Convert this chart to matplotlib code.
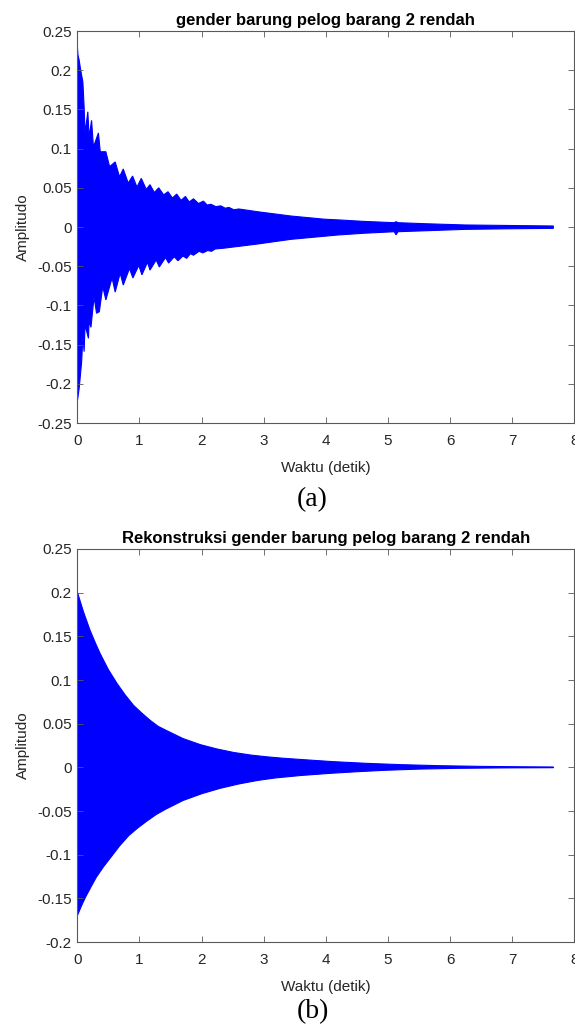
import numpy as np
import matplotlib
matplotlib.use('Agg')
import matplotlib.pyplot as plt

plt.rcParams['font.family'] = ['Liberation Sans', 'DejaVu Sans']

# (a) original recording: envelope (time [s], amplitude)
t_a_up = [0.0, 0.01, 0.03, 0.055, 0.09, 0.11, 0.125, 0.17, 0.19, 0.23, 0.26, 0.34, 0.37,
          0.46, 0.52, 0.61, 0.68, 0.74, 0.82, 0.89, 0.96, 1.03, 1.11, 1.17, 1.24, 1.31,
          1.39, 1.46, 1.53, 1.60, 1.67, 1.74, 1.80, 1.87, 1.95, 2.03, 2.09, 2.15, 2.23,
          2.31, 2.38, 2.44, 2.52, 2.60, 2.90, 3.44, 3.97, 4.24, 4.6, 5.1, 5.13, 5.16,
          5.6, 6.24, 7.0, 7.66]
a_a_up = [0.232, 0.22, 0.213, 0.20, 0.185, 0.153, 0.12, 0.147, 0.115, 0.136, 0.102, 0.12,
          0.096, 0.096, 0.077, 0.083, 0.064, 0.074, 0.056, 0.065, 0.051, 0.062, 0.048,
          0.054, 0.044, 0.050, 0.041, 0.045, 0.037, 0.042, 0.034, 0.039, 0.032, 0.036,
          0.030, 0.033, 0.028, 0.029, 0.026, 0.027, 0.024, 0.025, 0.022, 0.023, 0.0195,
          0.014, 0.010, 0.0089, 0.0072, 0.0055, 0.0068, 0.0055, 0.0042, 0.0026, 0.0019,
          0.0013]
t_a_lo = [0.0, 0.03, 0.055, 0.07, 0.09, 0.11, 0.125, 0.18, 0.19, 0.22, 0.27, 0.31, 0.355,
          0.41, 0.46, 0.56, 0.61, 0.69, 0.74, 0.84, 0.895, 0.99, 1.04, 1.13, 1.17, 1.27,
          1.32, 1.42, 1.47, 1.56, 1.62, 1.70, 1.76, 1.82, 1.87, 1.96, 2.02, 2.10, 2.16,
          2.22, 2.36, 2.9, 3.44, 4.19, 4.6, 5.1, 5.13, 5.16, 6.24, 7.0, 7.66]
a_a_lo = [-0.223, -0.206, -0.185, -0.172, -0.14, -0.159, -0.125, -0.142, -0.12, -0.128,
          -0.089, -0.110, -0.108, -0.076, -0.093, -0.065, -0.083, -0.059, -0.074, -0.053,
          -0.065, -0.049, -0.061, -0.045, -0.055, -0.042, -0.051, -0.039, -0.046, -0.038,
          -0.043, -0.037, -0.040, -0.034, -0.036, -0.031, -0.033, -0.030, -0.031, -0.028,
          -0.027, -0.0217, -0.0157, -0.0102, -0.0080, -0.006, -0.010, -0.006, -0.003,
          -0.0022, -0.0017]

# (b) reconstruction: smooth decaying envelope
t_b_up = [0.0, 0.1, 0.205, 0.3, 0.37, 0.5, 0.64, 0.77, 0.905, 1.04, 1.17, 1.3, 1.44, 1.7,
          1.98, 2.25, 2.52, 2.8, 3.06, 3.3, 3.6, 4.1, 4.65, 5.2, 5.83, 6.5, 7.1, 7.66]
a_b_up = [0.201, 0.178, 0.157, 0.141, 0.130, 0.112, 0.096, 0.083, 0.071, 0.062, 0.054,
          0.047, 0.042, 0.033, 0.026, 0.021, 0.017, 0.014, 0.012, 0.0105, 0.009, 0.0066,
          0.0046, 0.0031, 0.0019, 0.0011, 0.0007, 0.0004]
t_b_lo = [0.0, 0.065, 0.13, 0.22, 0.305, 0.42, 0.54, 0.68, 0.83, 0.98, 1.13, 1.27, 1.42,
          1.7, 2.01, 2.3, 2.6, 2.9, 3.18, 3.6, 4.06, 4.5, 4.94, 5.5, 6.12, 6.9, 7.66]
a_b_lo = [-0.170, -0.159, -0.149, -0.137, -0.126, -0.114, -0.103, -0.090, -0.078, -0.069,
          -0.061, -0.054, -0.048, -0.038, -0.030, -0.024, -0.019, -0.015, -0.0122, -0.0093,
          -0.0069, -0.0050, -0.0034, -0.0020, -0.0011, -0.0006, -0.0004]

titles = ['gender barung pelog barang 2 rendah',
          'Rekonstruksi gender barung pelog barang 2 rendah']
ylims = [(-0.25, 0.25), (-0.2, 0.25)]
yticks = [np.arange(-0.25, 0.2501, 0.05), np.arange(-0.2, 0.2501, 0.05)]
captions = ['(a)', '(b)']

fig = plt.figure(figsize=(5.75, 10.30), dpi=100)
axes = [fig.add_axes([0.1344, 0.5893, 0.8647, 0.3806]),
        fig.add_axes([0.1344, 0.0854, 0.8647, 0.3816])]
data = [(t_a_up, a_a_up, t_a_lo, a_a_lo), (t_b_up, a_b_up, t_b_lo, a_b_lo)]
edge = '#262626'

for ax, (tu, au, tl, al), title, yl, yt in zip(axes, data, titles, ylims, yticks):
    xs = np.concatenate([tu, tl[::-1]])
    ys = np.concatenate([au, al[::-1]])
    ax.fill(xs, ys, color='#0000ff', lw=0.8)
    ax.set_xlim(0, 8)
    ax.set_ylim(*yl)
    ax.set_xticks(range(0, 9))
    ax.set_yticks(yt)
    ax.set_yticklabels(['0' if abs(v) < 1e-9 else ('%g' % round(v, 2)) for v in yt])
    ax.tick_params(direction='in', length=4.5, width=0.6, color='#595959', labelcolor=edge,
                   labelsize=11, top=True, right=True)
    ax.tick_params(axis='x', pad=8)
    ax.tick_params(axis='y', pad=4)
    for s in ax.spines.values():
        s.set_color('#595959')
        s.set_linewidth(0.8)
    ax.set_title(title, fontsize=12, fontweight='bold', pad=4)
    ax.set_xlabel('Waktu (detik)', fontsize=11, color=edge, labelpad=9)
    ax.set_ylabel('Amplitudo', fontsize=11, color=edge, labelpad=5)

fig.text(0.543, 1 - 500 / 1030, captions[0], ha='center', va='center', fontsize=20,
         family=['Liberation Serif', 'DejaVu Serif'])
fig.text(0.545, 1 - 1012 / 1030, captions[1], ha='center', va='center', fontsize=20,
         family=['Liberation Serif', 'DejaVu Serif'])

fig.savefig('out.png', dpi=100, facecolor='white')
